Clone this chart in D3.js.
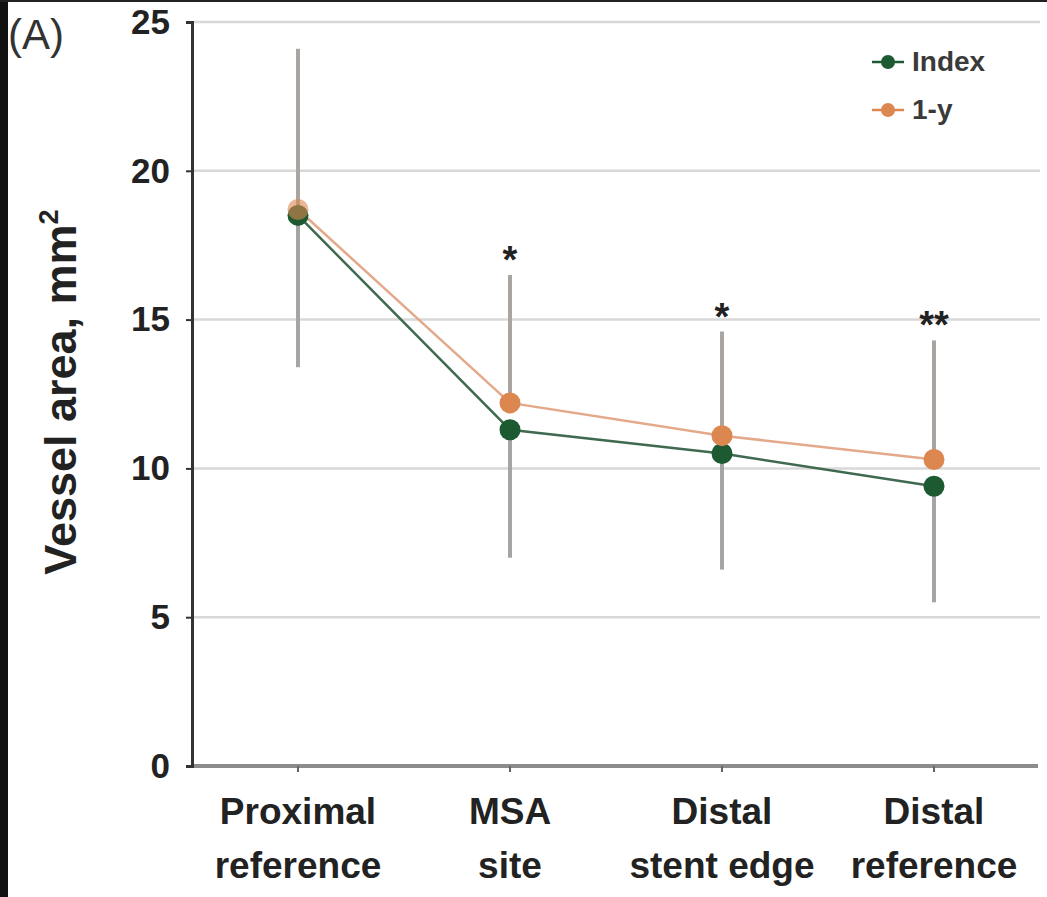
<!DOCTYPE html>
<html><head><meta charset="utf-8">
<script src="https://cdn.jsdelivr.net/npm/d3@7"></script>
<style>body{margin:0;background:#fff}svg{display:block}</style>
</head><body>
<svg id="c" width="1047" height="897"></svg>
<script>
const categories = [["Proximal","reference"],["MSA","site"],["Distal","stent edge"],["Distal","reference"]];
const indexValues = [18.5, 11.3, 10.5, 9.4];
const oneYearValues = [18.7, 12.2, 11.1, 10.3];
const oneYearUpper = [24.1, 16.5, 14.6, 14.3];
const indexLower = [13.4, 7.0, 6.6, 5.5];
const significance = ["", "*", "*", "**"];
const yTicks = [0, 5, 10, 15, 20, 25];
const seriesNames = ["Index", "1-y"];

(function(){
const green = "#1d5a32", orange = "#dc8750";
const svg = d3.select("#c");
const mLeft = 192, mRight = 1040, mTop = 22, mBottom = 766;
const keys = categories.map((d, i) => i);
const x = d3.scalePoint().domain(keys).range([mLeft, mRight]).padding(0.5);
const y = d3.scaleLinear().domain([0, 25]).range([mBottom, mTop]);
const font = "Arial, 'Liberation Sans', sans-serif";

// frame edges
svg.append("rect").attr("x",0).attr("y",0).attr("width",8).attr("height",897).attr("fill","#111");
svg.append("rect").attr("x",0).attr("y",0).attr("width",1047).attr("height",2).attr("fill","#222");

// gridlines
svg.append("g").selectAll("line").data(yTicks.filter(t => t > 0)).join("line")
  .attr("x1", mLeft).attr("x2", mRight).attr("y1", d => y(d)).attr("y2", d => y(d))
  .attr("stroke", "#d8d8d8").attr("stroke-width", 2.5);

// x axis baseline
svg.append("line").attr("x1", mLeft).attr("x2", mRight - 2).attr("y1", y(0)).attr("y2", y(0))
  .attr("stroke", "#8c8c8c").attr("stroke-width", 4);
svg.append("g").selectAll("line").data(keys).join("line")
  .attr("x1", d => x(d)).attr("x2", d => x(d)).attr("y1", y(0)).attr("y2", y(0) + 6)
  .attr("stroke", "#666").attr("stroke-width", 2);

// y axis
const yAxis = d3.axisLeft(y).tickValues(yTicks).tickSize(6).tickPadding(16);
const ga = svg.append("g").attr("transform", `translate(${mLeft},0)`).call(yAxis);
ga.select(".domain").attr("stroke", "#333").attr("stroke-width", 3);
ga.selectAll(".tick line").attr("stroke", "#333").attr("stroke-width", 2);
ga.selectAll(".tick text").attr("font-family", font).attr("font-size", 35).attr("font-weight", "bold").attr("fill", "#222");

// y title
const yt = svg.append("text").attr("transform", "translate(76,392) rotate(-90)")
  .attr("text-anchor", "middle").attr("font-family", font).attr("font-size", 45).attr("font-weight", "bold").attr("fill", "#222");
yt.append("tspan").text("Vessel area, mm");
yt.append("tspan").text("2").attr("font-size", 27).attr("dy", -18);

// panel label
svg.append("text").attr("x", 8).attr("y", 49).text("(A)")
  .attr("font-family", font).attr("font-size", 42).attr("fill", "#333");

// x labels
const xl = svg.append("g").selectAll("text").data(keys).join("text")
  .attr("x", d => x(d)).attr("y", 824).attr("text-anchor", "middle")
  .attr("font-family", font).attr("font-size", 37).attr("font-weight", "bold").attr("fill", "#222");
xl.append("tspan").attr("x", d => x(d)).text(d => categories[d][0]);
xl.append("tspan").attr("x", d => x(d)).attr("dy", 54).text(d => categories[d][1]);

// error bars
svg.append("g").selectAll("line").data(keys).join("line")
  .attr("x1", d => x(d)).attr("x2", d => x(d))
  .attr("y1", d => y(oneYearUpper[d])).attr("y2", d => y(oneYearValues[d]))
  .attr("stroke", "#aaa5a0").attr("stroke-width", 4);
svg.append("g").selectAll("line").data(keys).join("line")
  .attr("x1", d => x(d)).attr("x2", d => x(d))
  .attr("y1", d => y(indexValues[d])).attr("y2", d => y(indexLower[d]))
  .attr("stroke", "#a3a6a3").attr("stroke-width", 4);

// lines
const line = arr => d3.line().x((d, i) => x(i)).y(d => y(d))(arr);
svg.append("path").attr("d", line(oneYearValues)).attr("fill", "none").attr("stroke", "#e3a98a").attr("stroke-width", 2.5);
svg.append("path").attr("d", line(indexValues)).attr("fill", "none").attr("stroke", "#3f6a50").attr("stroke-width", 2.5);

// points
svg.append("g").selectAll("circle").data(keys).join("circle")
  .attr("cx", d => x(d)).attr("cy", d => y(indexValues[d])).attr("r", 10.5).attr("fill", green);
svg.append("g").selectAll("circle").data(keys).join("circle")
  .attr("cx", d => x(d)).attr("cy", d => y(oneYearValues[d])).attr("r", 10.5).attr("fill", orange)
  .attr("fill-opacity", d => d === 0 ? 0.6 : 1);

// significance
svg.append("g").selectAll("text").data(keys).join("text")
  .attr("x", d => x(d)).attr("y", d => y(oneYearUpper[d]) - 2).attr("text-anchor", "middle")
  .attr("font-family", font).attr("font-size", 38).attr("font-weight", "bold").attr("fill", "#222")
  .text(d => significance[d]);

// legend
const leg = svg.append("g").attr("transform", "translate(888,62)");
[green, orange].forEach((c, i) => {
  const g = leg.append("g").attr("transform", `translate(0,${i * 48})`);
  g.append("line").attr("x1", -16).attr("x2", 16).attr("stroke", c).attr("stroke-width", 2.5);
  g.append("circle").attr("r", 7).attr("fill", c);
  g.append("text").attr("x", 24).attr("y", 9).text(seriesNames[i])
    .attr("font-family", font).attr("font-size", 28).attr("font-weight", "bold").attr("fill", "#3a3a3a");
});
})();
</script>
</body></html>
